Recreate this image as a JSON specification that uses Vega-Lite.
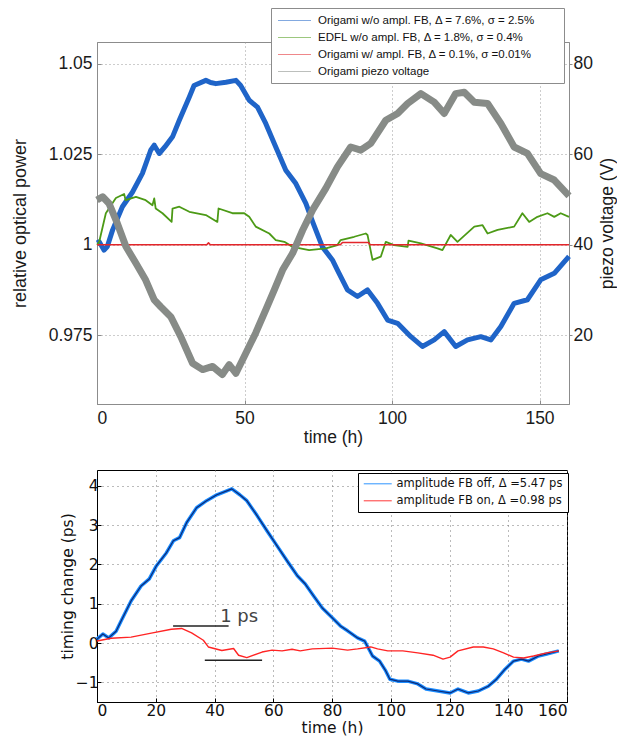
{
  "$schema": "https://vega.github.io/schema/vega-lite/v6.json",
  "background": "white",
  "padding": {"left": 10, "top": 7, "right": 0, "bottom": 0},
  "spacing": 22,
  "config": {
    "view": {"strokeWidth": 1},
    "line": {"strokeJoin": "round", "strokeCap": "butt"}
  },
  "resolve": {"scale": {"color": "independent"}, "legend": {"color": "independent"}},
  "datasets": {
    "blue": [
      {"t": 0, "p": 1.0005}, {"t": 0.75, "p": 1.0008}, {"t": 2.4, "p": 0.9985}, {"t": 3.5, "p": 0.9995},
      {"t": 5.3, "p": 1.0041}, {"t": 8.6, "p": 1.0105}, {"t": 12.0, "p": 1.0145}, {"t": 15.4, "p": 1.0197},
      {"t": 18.2, "p": 1.0261}, {"t": 19.4, "p": 1.0275}, {"t": 21.1, "p": 1.0252}, {"t": 23.0, "p": 1.027},
      {"t": 25.6, "p": 1.0298}, {"t": 27.9, "p": 1.0344}, {"t": 31.3, "p": 1.0408}, {"t": 32.9, "p": 1.044},
      {"t": 36.9, "p": 1.0454}, {"t": 38.5, "p": 1.0448}, {"t": 40.3, "p": 1.0445}, {"t": 43.7, "p": 1.0449},
      {"t": 47.1, "p": 1.0454}, {"t": 48.7, "p": 1.044}, {"t": 51.6, "p": 1.0399}, {"t": 54.4, "p": 1.038},
      {"t": 57.2, "p": 1.0335}, {"t": 60.6, "p": 1.027}, {"t": 64.0, "p": 1.0206}, {"t": 67.4, "p": 1.0169},
      {"t": 70.8, "p": 1.0114}, {"t": 73.1, "p": 1.0063}, {"t": 76.4, "p": 0.9994}, {"t": 79.8, "p": 0.9958},
      {"t": 81.5, "p": 0.993}, {"t": 84.9, "p": 0.9875}, {"t": 88.3, "p": 0.9857}, {"t": 91.7, "p": 0.9875},
      {"t": 95.1, "p": 0.9838}, {"t": 98.5, "p": 0.9792}, {"t": 101.9, "p": 0.9783}, {"t": 106.4, "p": 0.9746},
      {"t": 110.3, "p": 0.9719}, {"t": 114.3, "p": 0.9737}, {"t": 117.7, "p": 0.976}, {"t": 121.6, "p": 0.9719},
      {"t": 125.6, "p": 0.9737}, {"t": 130.1, "p": 0.9746}, {"t": 133.5, "p": 0.9737}, {"t": 136.9, "p": 0.9774},
      {"t": 141.4, "p": 0.9838}, {"t": 145.9, "p": 0.9848}, {"t": 150.4, "p": 0.9903}, {"t": 155.0, "p": 0.9921},
      {"t": 160, "p": 0.9968}
    ],
    "green": [
      {"t": 0, "p": 1.0}, {"t": 0.75, "p": 1.0008}, {"t": 3.0, "p": 1.0087}, {"t": 6.4, "p": 1.0129},
      {"t": 9.2, "p": 1.014}, {"t": 9.7, "p": 1.0123}, {"t": 13.2, "p": 1.0132}, {"t": 16.5, "p": 1.0123},
      {"t": 18.8, "p": 1.0109}, {"t": 19.4, "p": 1.0128}, {"t": 19.9, "p": 1.01}, {"t": 22.2, "p": 1.0087},
      {"t": 25.3, "p": 1.0063}, {"t": 25.6, "p": 1.01}, {"t": 27.9, "p": 1.0105}, {"t": 31.3, "p": 1.0091},
      {"t": 36.9, "p": 1.0082}, {"t": 40.8, "p": 1.0063}, {"t": 41.2, "p": 1.01}, {"t": 45.9, "p": 1.0087},
      {"t": 49.9, "p": 1.0087}, {"t": 51.6, "p": 1.0077}, {"t": 53.8, "p": 1.005}, {"t": 58.4, "p": 1.0031},
      {"t": 60.6, "p": 1.0013}, {"t": 63.5, "p": 1.0008}, {"t": 66.3, "p": 0.9994}, {"t": 71.9, "p": 0.9985},
      {"t": 77.6, "p": 0.999}, {"t": 81.5, "p": 0.9999}, {"t": 82.6, "p": 1.0013}, {"t": 87.2, "p": 1.0022},
      {"t": 91.1, "p": 1.0031}, {"t": 91.7, "p": 1.0027}, {"t": 93.4, "p": 0.9958}, {"t": 96.2, "p": 0.9967},
      {"t": 97.9, "p": 1.0008}, {"t": 100.7, "p": 0.9999}, {"t": 105.3, "p": 0.9994}, {"t": 105.6, "p": 1.0011},
      {"t": 109.8, "p": 1.0004}, {"t": 115.4, "p": 0.999}, {"t": 117.1, "p": 0.9985}, {"t": 119.9, "p": 1.0027},
      {"t": 122.2, "p": 1.0008}, {"t": 127.9, "p": 1.005}, {"t": 130.7, "p": 1.0054}, {"t": 132.4, "p": 1.0031},
      {"t": 135.8, "p": 1.0041}, {"t": 141.4, "p": 1.005}, {"t": 144.2, "p": 1.0087}, {"t": 146.5, "p": 1.0063},
      {"t": 149.3, "p": 1.0077}, {"t": 152.7, "p": 1.0087}, {"t": 155.0, "p": 1.0077}, {"t": 157.2, "p": 1.0087},
      {"t": 160, "p": 1.0077}
    ],
    "red": [
      {"t": 0, "p": 1.0}, {"t": 20, "p": 1.0}, {"t": 37.2, "p": 1.0}, {"t": 37.8, "p": 1.0005}, {"t": 38.4, "p": 1.0},
      {"t": 82.5, "p": 1.0}, {"t": 83.2, "p": 1.0006}, {"t": 92.0, "p": 1.0006}, {"t": 92.6, "p": 1.0},
      {"t": 120, "p": 1.0}, {"t": 160, "p": 1.0}
    ],
    "piezo": [
      {"t": 0, "V": 49.9}, {"t": 1.9, "V": 50.6}, {"t": 4.1, "V": 49.1}, {"t": 6.9, "V": 44.7},
      {"t": 9.8, "V": 39.6}, {"t": 13.2, "V": 35.9}, {"t": 16.5, "V": 32.2}, {"t": 19.4, "V": 27.8},
      {"t": 21.6, "V": 26.3}, {"t": 25.0, "V": 24.1}, {"t": 28.4, "V": 19.7}, {"t": 32.4, "V": 13.8},
      {"t": 35.8, "V": 12.4}, {"t": 39.2, "V": 13.1}, {"t": 42.5, "V": 11.3}, {"t": 44.8, "V": 13.5},
      {"t": 47.1, "V": 11.6}, {"t": 49.9, "V": 15.3}, {"t": 53.8, "V": 20.5}, {"t": 57.2, "V": 25.6},
      {"t": 60.1, "V": 30.0}, {"t": 62.9, "V": 34.4}, {"t": 66.3, "V": 38.1}, {"t": 69.7, "V": 43.2},
      {"t": 73.1, "V": 47.7}, {"t": 77.6, "V": 52.5}, {"t": 81.5, "V": 57.2}, {"t": 86.0, "V": 61.6},
      {"t": 89.4, "V": 60.9}, {"t": 92.8, "V": 62.4}, {"t": 97.9, "V": 67.5}, {"t": 101.9, "V": 69.0},
      {"t": 105.3, "V": 71.2}, {"t": 109.8, "V": 73.4}, {"t": 114.3, "V": 71.5}, {"t": 117.7, "V": 69.0},
      {"t": 121.6, "V": 73.4}, {"t": 124.5, "V": 73.7}, {"t": 127.9, "V": 71.5}, {"t": 132.4, "V": 71.2},
      {"t": 136.9, "V": 66.8}, {"t": 141.4, "V": 61.6}, {"t": 145.9, "V": 60.2}, {"t": 150.4, "V": 55.7},
      {"t": 155.0, "V": 54.3}, {"t": 160, "V": 50.8}
    ],
    "off": [
      {"t": 0, "v": 0.1}, {"t": 2, "v": 0.23}, {"t": 4, "v": 0.13}, {"t": 6.5, "v": 0.3}, {"t": 8.2, "v": 0.56},
      {"t": 11.6, "v": 1.07}, {"t": 15, "v": 1.45}, {"t": 17.8, "v": 1.63}, {"t": 20.2, "v": 1.96},
      {"t": 23.6, "v": 2.29}, {"t": 26, "v": 2.6}, {"t": 28.1, "v": 2.68}, {"t": 30.5, "v": 3.06},
      {"t": 33.9, "v": 3.44}, {"t": 37.3, "v": 3.62}, {"t": 40.8, "v": 3.77}, {"t": 44.2, "v": 3.87},
      {"t": 45.9, "v": 3.92}, {"t": 48.6, "v": 3.77}, {"t": 51, "v": 3.62}, {"t": 54.5, "v": 3.24},
      {"t": 57.9, "v": 2.85}, {"t": 61.3, "v": 2.47}, {"t": 64.7, "v": 2.09}, {"t": 68.2, "v": 1.71},
      {"t": 70.9, "v": 1.5}, {"t": 74, "v": 1.17}, {"t": 76.7, "v": 0.89}, {"t": 80.1, "v": 0.64},
      {"t": 82.9, "v": 0.43}, {"t": 85.3, "v": 0.31}, {"t": 88.7, "v": 0.13}, {"t": 91.1, "v": 0.05},
      {"t": 93.8, "v": -0.33}, {"t": 96.2, "v": -0.46}, {"t": 98.3, "v": -0.71}, {"t": 99.7, "v": -0.92},
      {"t": 102.4, "v": -0.97}, {"t": 105.8, "v": -0.97}, {"t": 109.2, "v": -1.04}, {"t": 112, "v": -1.17},
      {"t": 116.1, "v": -1.22}, {"t": 120.2, "v": -1.27}, {"t": 122.9, "v": -1.17}, {"t": 126.4, "v": -1.27},
      {"t": 129.8, "v": -1.22}, {"t": 133.2, "v": -1.1}, {"t": 136, "v": -0.92}, {"t": 139, "v": -0.66},
      {"t": 141.8, "v": -0.46}, {"t": 144.5, "v": -0.41}, {"t": 146.9, "v": -0.46}, {"t": 150.3, "v": -0.33},
      {"t": 153.1, "v": -0.28}, {"t": 157.2, "v": -0.2}
    ],
    "on": [
      {"t": 0, "v": 0.05}, {"t": 4.8, "v": 0.12}, {"t": 11.6, "v": 0.15}, {"t": 18.5, "v": 0.25},
      {"t": 25.3, "v": 0.35}, {"t": 28.8, "v": 0.37}, {"t": 32.2, "v": 0.26}, {"t": 36.2, "v": 0.07},
      {"t": 37.9, "v": -0.1}, {"t": 42.5, "v": -0.19}, {"t": 46.5, "v": -0.14}, {"t": 48.2, "v": -0.31},
      {"t": 51, "v": -0.37}, {"t": 56.2, "v": -0.23}, {"t": 59.6, "v": -0.18}, {"t": 63, "v": -0.2},
      {"t": 66.4, "v": -0.16}, {"t": 69.2, "v": -0.2}, {"t": 73.3, "v": -0.15}, {"t": 80.1, "v": -0.13},
      {"t": 85.3, "v": -0.18}, {"t": 88.7, "v": -0.15}, {"t": 93.2, "v": -0.1}, {"t": 95.5, "v": -0.15},
      {"t": 99, "v": -0.2}, {"t": 104.1, "v": -0.2}, {"t": 109.2, "v": -0.25}, {"t": 114.4, "v": -0.31},
      {"t": 117.8, "v": -0.41}, {"t": 120.2, "v": -0.36}, {"t": 122.9, "v": -0.2}, {"t": 128.1, "v": -0.1},
      {"t": 131.5, "v": -0.1}, {"t": 134.9, "v": -0.15}, {"t": 138.4, "v": -0.25}, {"t": 141.8, "v": -0.36},
      {"t": 145.2, "v": -0.38}, {"t": 148.6, "v": -0.33}, {"t": 153.1, "v": -0.25}, {"t": 157.2, "v": -0.2}
    ],
    "bars": [
      {"t": 25.9, "t2": 44.8, "v": 0.43},
      {"t": 36.7, "t2": 56.2, "v": -0.44}
    ],
    "note": [
      {"t": 48.4, "v": 0.66, "label": "1 ps"}
    ]
  },
  "vconcat": [
    {
      "width": 472,
      "height": 362,
      "view": {"stroke": "#8c8c8c"},
      "encoding": {
        "x": {
          "field": "t", "type": "quantitative",
          "scale": {"domain": [0, 160], "nice": false, "zero": false},
          "axis": {
            "values": [0, 50, 100, 150], "title": "time (h)", "grid": true,
            "gridColor": "#9a9a9a", "gridDash": [1, 3], "gridOpacity": 1,
            "domainColor": "#8c8c8c", "tickColor": "#8c8c8c", "tickSize": -4,
            "labelFont": "Liberation Sans", "labelFontSize": 17.5, "labelColor": "#1a1a1a", "labelPadding": 9,
            "titleFont": "Liberation Sans", "titleFontSize": 17.5, "titleFontWeight": "normal", "titleColor": "#1a1a1a", "titlePadding": 2
          }
        }
      },
      "layer": [
        {
          "encoding": {
            "y": {
              "field": "p", "type": "quantitative",
              "scale": {"domain": [0.956, 1.056], "nice": false, "zero": false},
              "axis": {
                "values": [0.975, 1, 1.025, 1.05], "labelExpr": "toString(datum.value)",
                "title": "relative optical power", "grid": true,
                "gridColor": "#9a9a9a", "gridDash": [1, 3], "gridOpacity": 1,
                "domainColor": "#8c8c8c", "tickColor": "#8c8c8c", "tickSize": -4,
                "labelFont": "Liberation Sans", "labelFontSize": 17.5, "labelColor": "#1a1a1a", "labelPadding": 9,
                "titleFont": "Liberation Sans", "titleFontSize": 18, "titleFontWeight": "normal", "titleColor": "#1a1a1a", "titlePadding": 19
              }
            }
          },
          "layer": [
            {
              "data": {"name": "blue"},
              "mark": {"type": "line", "strokeWidth": 5},
              "encoding": {
                "color": {
                  "datum": "Origami w/o ampl. FB, Δ = 7.6%, σ = 2.5%",
                  "scale": {
                    "domain": ["Origami w/o ampl. FB, Δ = 7.6%, σ = 2.5%", "EDFL w/o ampl. FB, Δ = 1.8%, σ = 0.4%", "Origami w/ ampl. FB, Δ = 0.1%, σ =0.01%", "Origami piezo voltage"],
                    "range": ["#1f64c8", "#4c9a16", "#e3262b", "#878b87"]
                  },
                  "legend": {
                    "title": null, "orient": "none", "legendX": 174, "legendY": -34,
                    "direction": "vertical",
                    "symbolType": "M-3,0H3", "symbolSize": 121, "symbolStrokeWidth": 1.2, "symbolOpacity": 0.55,
                    "symbolOffset": 11, "labelOffset": 17, "labelLimit": 600,
                    "labelFont": "Liberation Sans", "labelFontSize": 11.5, "labelColor": "#111",
                    "labelExpr": "datum.label + '\u2003\u2003\u200b'",
                    "rowPadding": 5, "padding": 6,
                    "strokeColor": "#8c8c8c", "fillColor": "white", "cornerRadius": 0
                  }
                }
              }
            },
            {
              "data": {"name": "green"},
              "mark": {"type": "line", "strokeWidth": 1.8},
              "encoding": {"color": {"datum": "EDFL w/o ampl. FB, Δ = 1.8%, σ = 0.4%"}}
            },
            {
              "data": {"name": "red"},
              "mark": {"type": "line", "strokeWidth": 1.6},
              "encoding": {"color": {"datum": "Origami w/ ampl. FB, Δ = 0.1%, σ =0.01%"}}
            }
          ]
        },
        {
          "data": {"name": "piezo"},
          "mark": {"type": "line", "strokeWidth": 7},
          "encoding": {
            "y": {
              "field": "V", "type": "quantitative",
              "scale": {"domain": [4.8, 84.8], "nice": false, "zero": false},
              "axis": {
                "orient": "right", "values": [20, 40, 60, 80], "title": "piezo voltage (V)", "grid": false,
                "domainColor": "#8c8c8c", "tickColor": "#8c8c8c", "tickSize": 3,
                "labelFont": "Liberation Sans", "labelFontSize": 17.5, "labelColor": "#1a1a1a", "labelPadding": 1,
                "titleFont": "Liberation Sans", "titleFontSize": 17.5, "titleFontWeight": "normal", "titleColor": "#1a1a1a", "titlePadding": 6,
                "titleAngle": 270, "titleBaseline": "top"
              }
            },
            "color": {"datum": "Origami piezo voltage"}
          }
        }
      ],
      "resolve": {"scale": {"y": "independent"}}
    },
    {
      "width": 470,
      "height": 232,
      "view": {"stroke": "#000"},
      "encoding": {
        "x": {
          "field": "t", "type": "quantitative",
          "scale": {"domain": [0, 160], "nice": false, "zero": false},
          "axis": {
            "values": [0, 20, 40, 60, 80, 100, 120, 140, 160], "title": "time (h)", "grid": true,
            "gridColor": "#777", "gridDash": [1, 4], "gridOpacity": 1,
            "domainColor": "#000", "tickColor": "#000", "tickSize": -4,
            "labelFont": "DejaVu Sans", "labelFontSize": 15.5, "labelColor": "#111", "labelPadding": 5,
            "titleFont": "DejaVu Sans", "titleFontSize": 15.5, "titleFontWeight": "normal", "titleColor": "#111", "titlePadding": 2
          }
        },
        "y": {
          "field": "v", "type": "quantitative",
          "scale": {"domain": [-1.5, 4.4], "nice": false, "zero": false},
          "axis": {
            "values": [-1, 0, 1, 2, 3, 4], "format": "d", "title": "timing change (ps)", "grid": true,
            "gridColor": "#777", "gridDash": [1, 4], "gridOpacity": 1,
            "domainColor": "#000", "tickColor": "#000", "tickSize": -4,
            "labelFont": "DejaVu Sans", "labelFontSize": 15.5, "labelColor": "#111", "labelPadding": 3,
            "titleFont": "DejaVu Sans", "titleFontSize": 15.5, "titleFontWeight": "normal", "titleColor": "#111", "titlePadding": 0
          }
        }
      },
      "layer": [
        {
          "data": {"name": "off"},
          "mark": {"type": "line", "strokeWidth": 3.5},
          "encoding": {
            "color": {
              "datum": "amplitude FB off, Δ =5.47 ps",
              "scale": {"domain": ["amplitude FB off, Δ =5.47 ps", "amplitude FB on, Δ =0.98 ps"], "range": ["#1a8cff", "#ff2424"]},
              "legend": {
                "title": null, "orient": "none", "legendX": 261, "legendY": 3,
                "direction": "vertical",
                "symbolType": "M-3,0H3", "symbolSize": 87, "symbolStrokeWidth": 1.3, "symbolOpacity": 0.7,
                "symbolOffset": 9, "labelOffset": 13, "labelLimit": 600,
                "labelFont": "DejaVu Sans", "labelFontSize": 11.5, "labelColor": "#111",
                "rowPadding": 4, "padding": 5,
                "strokeColor": "#000", "fillColor": "white", "cornerRadius": 0
              }
            }
          }
        },
        {
          "data": {"name": "off"},
          "mark": {"type": "line", "strokeWidth": 1.2, "color": "#0c2a78"}
        },
        {
          "data": {"name": "on"},
          "mark": {"type": "line", "strokeWidth": 1.4},
          "encoding": {"color": {"datum": "amplitude FB on, Δ =0.98 ps"}}
        },
        {
          "data": {"name": "bars"},
          "mark": {"type": "rule", "strokeWidth": 1.5, "color": "#222"},
          "encoding": {"x2": {"field": "t2"}}
        },
        {
          "data": {"name": "note"},
          "mark": {"type": "text", "font": "DejaVu Sans", "fontSize": 18, "color": "#444", "align": "center", "baseline": "middle"},
          "encoding": {"text": {"field": "label"}}
        }
      ]
    }
  ]
}
